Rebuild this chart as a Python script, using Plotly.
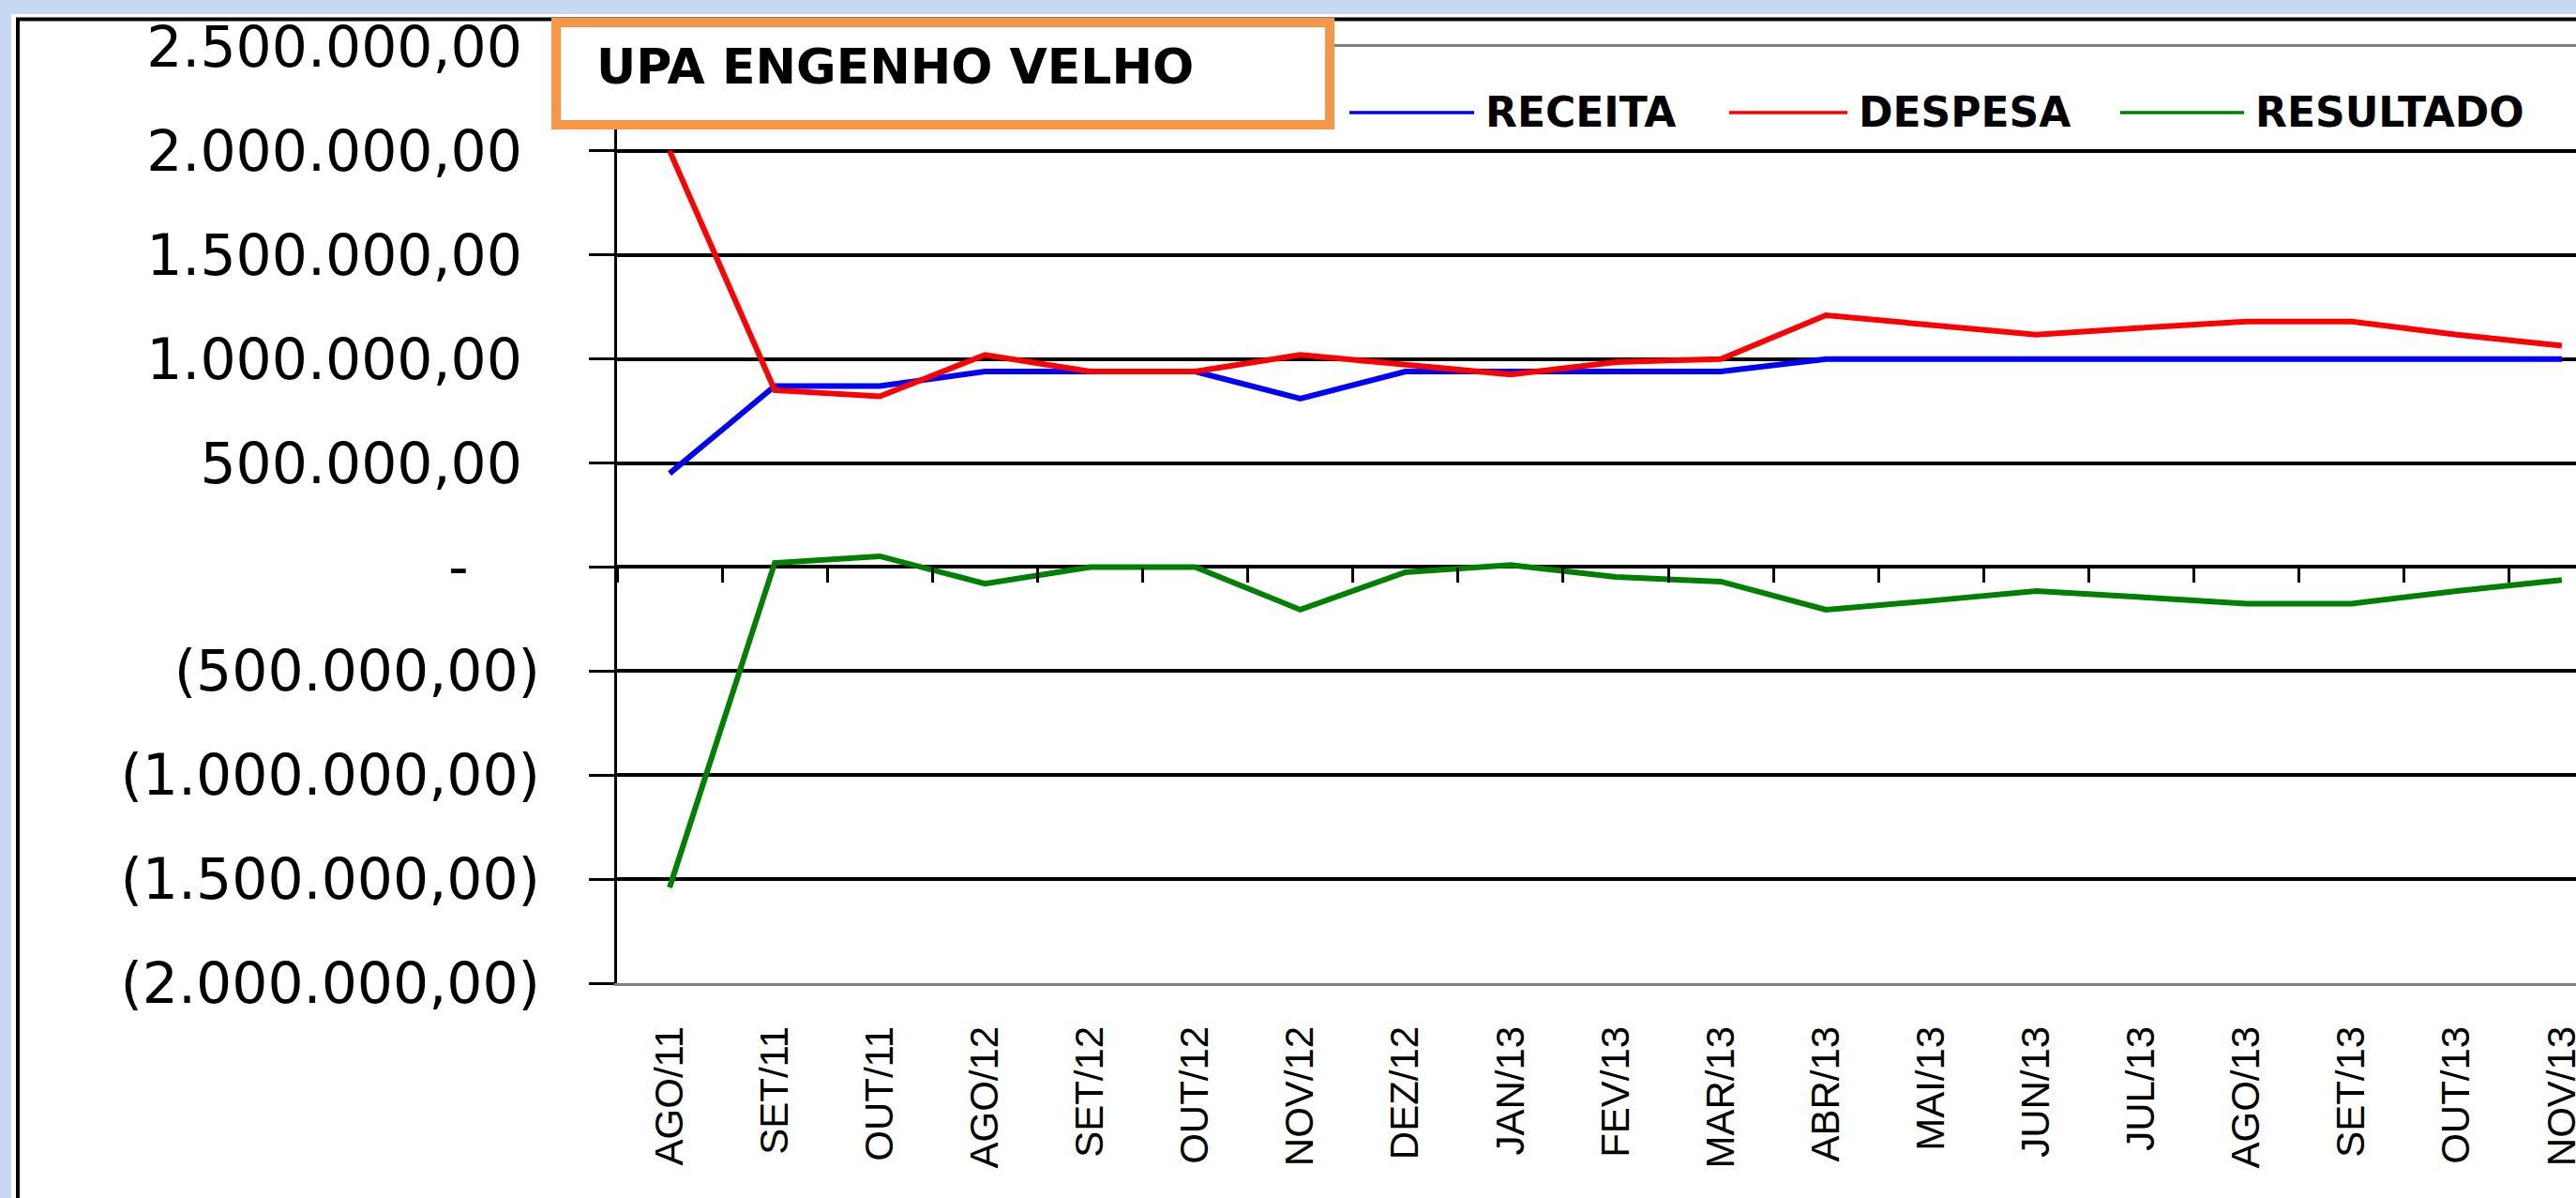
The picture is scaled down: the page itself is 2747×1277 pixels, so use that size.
import plotly.graph_objects as go

# ---------------- data ----------------
categories = ["AGO/11", "SET/11", "OUT/11", "AGO/12", "SET/12", "OUT/12", "NOV/12",
              "DEZ/12", "JAN/13", "FEV/13", "MAR/13", "ABR/13", "MAI/13", "JUN/13",
              "JUL/13", "AGO/13", "SET/13", "OUT/13", "NOV/13"]

receita = [450000, 870000, 870000, 940000, 940000, 940000, 810000,
           940000, 940000, 940000, 940000, 1000000, 1000000, 1000000,
           1000000, 1000000, 1000000, 1000000, 1000000]

despesa = [2000000, 850000, 820000, 1020000, 940000, 940000, 1020000,
           970000, 925000, 985000, 1000000, 1210000, 1165000, 1117000,
           1150000, 1180000, 1180000, 1117000, 1064000]

resultado = [-1540000, 20000, 52000, -80000, 0, 0, -205000,
             -25000, 10000, -48000, -70000, -205000, -162000, -115000,
             -145000, -176000, -176000, -115000, -62000]

series_names = ["RECEITA", "DESPESA", "RESULTADO"]
series_colors = ["#0000FF", "#FF0000", "#008000"]

y_tickvals = [2500000, 2000000, 1500000, 1000000, 500000, 0,
              -500000, -1000000, -1500000, -2000000]
y_ticktext = ["2.500.000,00", "2.000.000,00", "1.500.000,00", "1.000.000,00",
              "500.000,00", "-", "(500.000,00)", "(1.000.000,00)",
              "(1.500.000,00)", "(2.000.000,00)"]

chart_title = "UPA ENGENHO VELHO"

# ---------------- layout geometry (pixels) ----------------
W, H = 2747, 1277
PL, PR, PT, PB = 658, 2747, 50, 1048
Y_MIN, Y_MAX = -2000000, 2500000
X_RANGE = [-0.5, 18.135]


def px(x):
    return (x - PL) / (PR - PL)


def py(y):
    return (PB - y) / (PB - PT)


NB = "\u00a0"
ticktext_fmt = []
for t in y_ticktext:
    if t == "-":
        ticktext_fmt.append("-" + NB * 4)
    elif t.startswith("("):
        ticktext_fmt.append(t)
    else:
        ticktext_fmt.append(t + NB)

fig = go.Figure()
values = [receita, despesa, resultado]
for name, col, vals in zip(series_names, series_colors, values):
    fig.add_trace(go.Scatter(
        x=categories, y=vals, name=name, mode="lines",
        line=dict(color=col, width=6),
        xaxis="x2" if name == "RESULTADO" else "x",
        showlegend=False, hoverinfo="x+y+name"))

zero_pos = (0 - Y_MIN) / (Y_MAX - Y_MIN)

fig.update_layout(
    width=W, height=H, autosize=False,
    margin=dict(l=PL, r=W - PR, t=PT, b=H - PB, pad=0),
    paper_bgcolor="#C6D9F0",
    plot_bgcolor="white",
    xaxis=dict(
        type="category", categoryorder="array", categoryarray=categories,
        range=X_RANGE, showgrid=False, zeroline=False,
        showline=True, linecolor="#808080", linewidth=3, mirror=True,
        ticks="", tickangle=-90, ticklabelstandoff=26,
        tickfont=dict(family="Liberation Sans, Arial", size=42, color="black"),
        automargin=False),
    xaxis2=dict(
        type="category", categoryorder="array", categoryarray=categories,
        matches="x", overlaying="x", anchor="free", position=zero_pos, side="bottom",
        showgrid=False, zeroline=False, showline=False,
        ticks="outside", tickson="boundaries", ticklen=16, tickwidth=3, tickcolor="black",
        showticklabels=False, automargin=False),
    yaxis=dict(
        range=[Y_MIN, Y_MAX], tickmode="array", tickvals=y_tickvals, ticktext=ticktext_fmt,
        showgrid=True, gridcolor="black", gridwidth=4,
        zeroline=True, zerolinecolor="black", zerolinewidth=4,
        showline=True, linecolor="black", linewidth=3,
        ticks="outside", ticklen=27, tickwidth=3, tickcolor="black",
        ticklabelstandoff=40,
        tickfont=dict(family="DejaVu Sans", size=60, color="black"),
        automargin=False),
    showlegend=False,
)

shapes = [
    # white chart area
    dict(type="rect", xref="paper", yref="paper", x0=px(12), x1=px(3000), y0=py(1400), y1=py(15),
         fillcolor="white", line=dict(width=0), layer="below"),
    # black chart frame
    dict(type="rect", xref="paper", yref="paper", x0=px(19), x1=px(3000), y0=py(1400), y1=py(20.5),
         fillcolor="rgba(0,0,0,0)", line=dict(color="black", width=4), layer="below"),
    # title box
    dict(type="rect", xref="paper", yref="paper", x0=px(593), x1=px(1418), y0=py(133), y1=py(24),
         fillcolor="white", line=dict(color="#F79646", width=10), layer="above"),
]

annotations = [
    dict(text="<b>" + chart_title + "</b>", xref="paper", yref="paper", x=px(634), y=py(71),
         xanchor="left", yanchor="middle", showarrow=False,
         font=dict(family="DejaVu Sans", size=52, color="black")),
]

# custom legend (long line samples like the original)
legend_line_x = [(1439, 1572), (1844, 1970), (2261, 2393)]
legend_y = 120
for (x0, x1), name, col in zip(legend_line_x, series_names, series_colors):
    shapes.append(dict(type="line", xref="paper", yref="paper", x0=px(x0), x1=px(x1),
                       y0=py(legend_y), y1=py(legend_y), line=dict(color=col, width=3.5), layer="above"))
    annotations.append(dict(text="<b>" + name + "</b>", xref="paper", yref="paper",
                            x=px(x1 + 10), y=py(legend_y), xanchor="left", yanchor="middle",
                            showarrow=False, font=dict(family="DejaVu Sans", size=44, color="black")))

fig.update_layout(shapes=shapes, annotations=annotations)

fig.write_html(
    "out.html",
    config={"displayModeBar": False},
    post_script="document.body.style.margin='0';document.body.style.overflow='hidden';"
                "document.body.style.background='#C6D9F0';")
